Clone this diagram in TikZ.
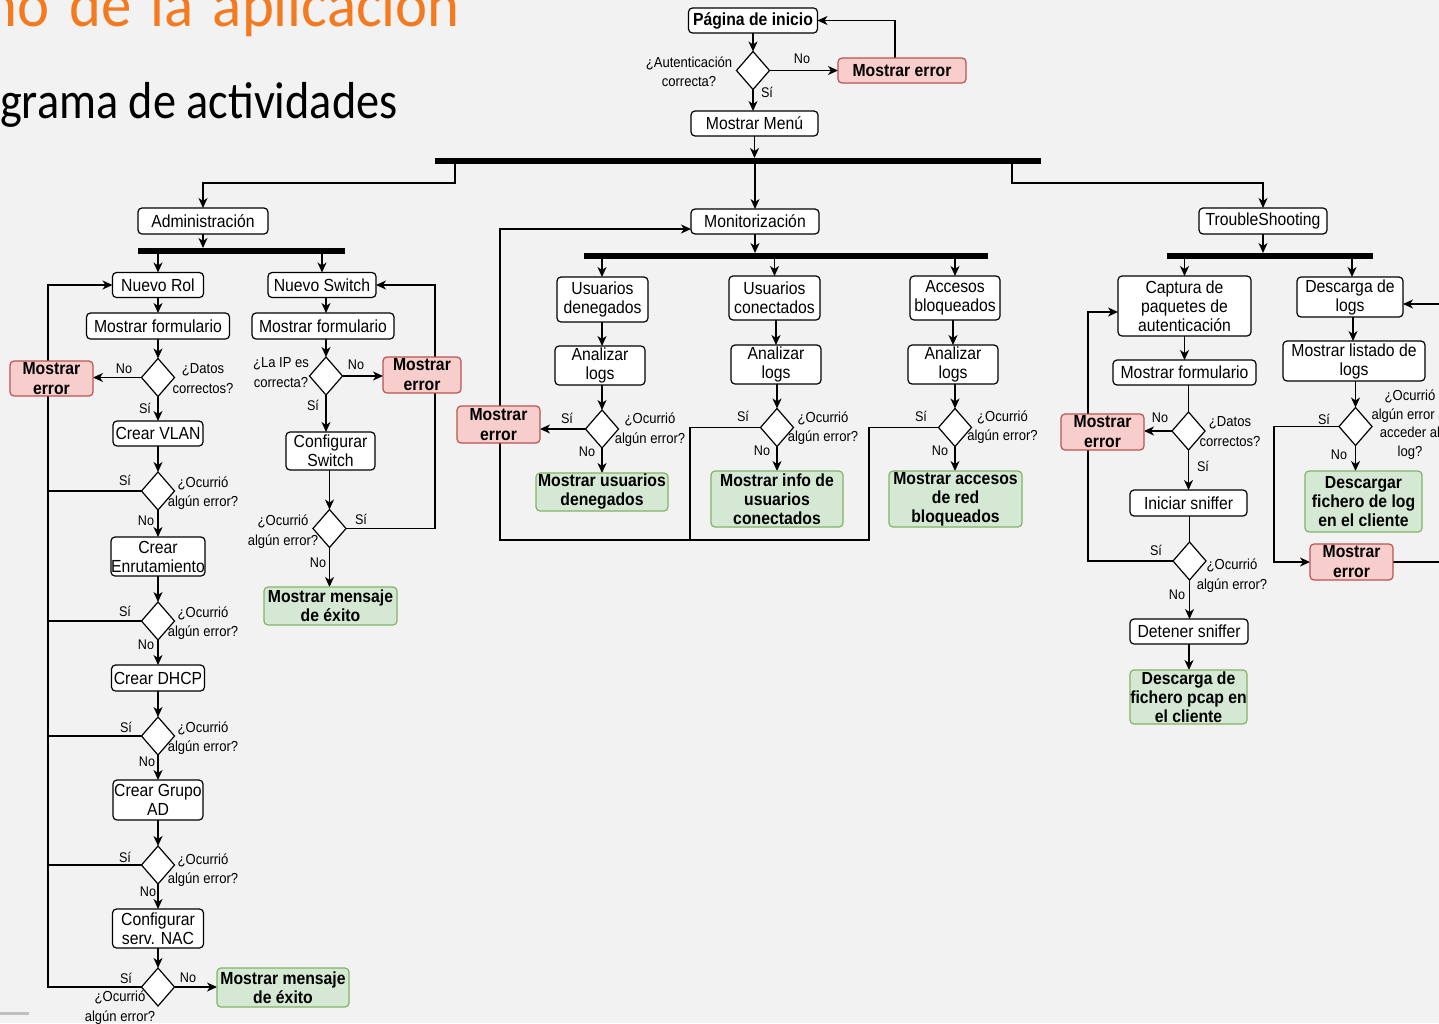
\documentclass[tikz,border=0pt]{standalone}
\usepackage{fontspec}
\setmainfont{Liberation Sans}[FakeStretch=0.9]
\newfontfamily\titlefont{Carlito}[FakeStretch=0.95,WordSpace=1.4]
\newfontfamily\subtitlefont{Carlito}[FakeStretch=0.89]
\usetikzlibrary{arrows.meta,shapes.geometric}
\definecolor{pagebg}{HTML}{F2F2F2}
\definecolor{errfill}{HTML}{F8CECC}
\definecolor{errline}{HTML}{B85450}
\definecolor{okfill}{HTML}{D5E8D4}
\definecolor{okline}{HTML}{82B366}
\definecolor{titleorange}{HTML}{F47A20}
\pgfdeclarelayer{bg}
\pgfsetlayers{bg,main}
\tikzset{
  every node/.style={inner sep=0pt, outer sep=0pt},
  sz/.style 2 args={minimum width=#1pt, minimum height=#2pt},
  act/.style={draw=black, fill=white, rounded corners=4pt, line width=1.2pt, align=center,
    font=\fontsize{17.5}{19}\selectfont},
  hdr/.style={act, font=\fontsize{17.5}{19}\selectfont\bfseries},
  err/.style={act, draw=errline, fill=errfill, font=\fontsize{17.5}{20}\selectfont\bfseries},
  ok/.style={act, draw=okline, fill=okfill, font=\fontsize{17.5}{19}\selectfont\bfseries},
  dec/.style={diamond, draw=black, fill=white, line width=1.2pt, minimum width=33pt, minimum height=38pt},
  note/.style={align=center, font=\fontsize{14.5}{19.5}\selectfont},
  yn/.style={font=\fontsize{14}{16}\selectfont},
  fork/.style={fill=black},
  arr/.style={line width=1.3pt, -{Stealth[length=10pt,width=9pt,inset=3pt]}},
  ln/.style={line width=1.3pt},
}
\begin{document}
\begin{tikzpicture}[x=1pt, y=-1pt]
\useasboundingbox (0,0) rectangle (1439,1023);
\begin{pgfonlayer}{bg}
  \fill[pagebg] (0,0) rectangle (1439,1023);
\end{pgfonlayer}

% slide headings
\node[anchor=base west, text=titleorange, font=\titlefont\fontsize{64}{70}\selectfont] (ttl) at (-14,26) {no de la aplicación};
\node[anchor=base west, font=\subtitlefont\fontsize{52}{60}\selectfont] (sub) at (0,118) {grama de actividades};
\fill[black!25] (0,1012) rectangle (29,1015);

% login
\node[hdr, sz={129}{25}] (inicio) at (753,20.5) {Página de inicio};
\node[dec] (auth) at (753,70.5) {};
\node[err, sz={128}{25}] (err0) at (902,70.5) {Mostrar error};
\node[act, sz={127}{25}] (menu) at (754.5,123.5) {Mostrar Menú};
\node[fork, sz={606}{6}] (bar0) at (738,161) {};
\node[note] (qauth) at (689,71.5) {¿Autenticación\\correcta?};
\node[yn] (nauth) at (802,59) {No};
\node[yn] (sauth) at (767,92) {Sí};

% administration: new role
\node[act, sz={130}{26}] (adm) at (203,221) {Administración};
\node[fork, sz={207}{6}] (bar1) at (241.5,251) {};
\node[act, sz={91}{25}] (rol) at (158,285) {Nuevo Rol};
\node[act, sz={143}{26}] (form1) at (158,326) {Mostrar formulario};
\node[dec] (d1) at (158,377.5) {};
\node[err, sz={83}{35}] (err1) at (51.5,378.5) {Mostrar\\error};
\node[act, sz={90}{25}] (vlan) at (158,433.5) {Crear VLAN};
\node[dec] (d2) at (158,491) {};
\node[act, sz={94}{39}] (enr) at (158,556.5) {Crear\\Enrutamiento};
\node[dec] (d3) at (158,621) {};
\node[act, sz={93}{26}] (dhcp) at (158,678) {Crear DHCP};
\node[dec] (d4) at (158,736) {};
\node[act, sz={90}{40}] (ad) at (158,800) {Crear Grupo\\AD};
\node[dec] (d5) at (158,865) {};
\node[act, sz={91}{39}] (nac) at (158,928.5) {Configurar\\serv. NAC};
\node[dec] (d6) at (158,987) {};
\node[ok, sz={132}{39}] (ok1) at (283,987.5) {Mostrar mensaje\\de éxito};

\node[note] (q1) at (203,378.5) {¿Datos\\correctos?};
\node[yn] (n1) at (124,369) {No};
\node[yn] (s1) at (145,408) {Sí};
\node[note] (q2) at (203,493) {¿Ocurrió\\algún error?};
\node[yn] (s2) at (125,480) {Sí};
\node[yn] (n2) at (146,521) {No};
\node[note] (q3) at (203,623) {¿Ocurrió\\algún error?};
\node[yn] (s3) at (125,611) {Sí};
\node[yn] (n3) at (146,645) {No};
\node[note] (q4) at (203,738) {¿Ocurrió\\algún error?};
\node[yn] (s4) at (126,727) {Sí};
\node[yn] (n4) at (147,762) {No};
\node[note] (q5) at (203,870) {¿Ocurrió\\algún error?};
\node[yn] (s5) at (125,857) {Sí};
\node[yn] (n5) at (148,892) {No};
\node[note] (q6) at (120,1007.5) {¿Ocurrió\\algún error?};
\node[yn] (s6) at (126,978) {Sí};
\node[yn] (n6) at (188,978) {No};

% administration: new switch
\node[act, sz={108}{25}] (nsw) at (322,285) {Nuevo Switch};
\node[act, sz={142}{26}] (form2) at (323,326) {Mostrar formulario};
\node[dec] (d7) at (326,376) {};
\node[err, sz={78}{36}] (err2) at (422,375) {Mostrar\\error};
\node[act, sz={89}{38}] (csw) at (330.5,451) {Configurar\\Switch};
\node[dec] (d8) at (329.5,528.5) {};
\node[ok, sz={133}{38}] (ok2) at (330.5,606) {Mostrar mensaje\\de éxito};
\node[note] (q7) at (281,372.5) {¿La IP es\\correcta?};
\node[yn] (n7) at (356,365) {No};
\node[yn] (s7) at (313,405) {Sí};
\node[note] (q8) at (283,531.5) {¿Ocurrió\\algún error?};
\node[yn] (s8) at (361,519) {Sí};
\node[yn] (n8) at (318,563) {No};

% monitoring
\node[act, sz={128}{25}] (mon) at (755,221.5) {Monitorización};
\node[fork, sz={404}{6}] (bar2) at (786,256) {};
\node[act, sz={91}{45}] (ud) at (602.5,299.5) {Usuarios\\denegados};
\node[act, sz={90}{39}] (al1) at (600,365.5) {Analizar\\logs};
\node[dec] (d9) at (602,429) {};
\node[err, sz={83}{37}] (err3) at (498.5,424.5) {Mostrar\\error};
\node[ok, sz={132}{38}] (ok3) at (602,492) {Mostrar usuarios\\denegados};
\node[act, sz={91}{44}] (uc) at (774.5,298) {Usuarios\\conectados};
\node[act, sz={90}{39}] (al2) at (776,364.5) {Analizar\\logs};
\node[dec] (d10) at (777,427.5) {};
\node[ok, sz={132}{56}] (ok4) at (777,499) {Mostrar info de\\usuarios\\conectados};
\node[act, sz={90}{44}] (ab) at (955,298) {Accesos\\bloqueados};
\node[act, sz={90}{39}] (al3) at (953,364.5) {Analizar\\logs};
\node[dec] (d11) at (955,427.5) {};
\node[ok, sz={133}{56}] (ok5) at (955.5,499) {Mostrar accesos\\de red\\bloqueados};
\node[note] (q9) at (650,429.5) {¿Ocurrió\\algún error?};
\node[yn] (s9) at (567,418) {Sí};
\node[yn] (n9) at (587,452) {No};
\node[note] (q10) at (823,428) {¿Ocurrió\\algún error?};
\node[yn] (s10) at (743,416) {Sí};
\node[yn] (n10) at (762,451) {No};
\node[note] (q11) at (1002.5,427) {¿Ocurrió\\algún error?};
\node[yn] (s11) at (921,416) {Sí};
\node[yn] (n11) at (940,451) {No};
\coordinate (mbase) at (500,540);

% troubleshooting
\node[act, sz={128}{26}] (ts) at (1263,221) {TroubleShooting};
\node[fork, sz={206}{6}] (bar3) at (1270,256) {};
\node[act, sz={133}{60}] (cap) at (1184.5,306) {Captura de\\paquetes de\\autenticación};
\node[act, sz={143}{25}] (form3) at (1184.5,372.5) {Mostrar formulario};
\node[dec] (d12) at (1188.5,431) {};
\node[err, sz={83}{36}] (err4) at (1102.5,432) {Mostrar\\error};
\node[act, sz={117}{26}] (sn) at (1188.5,503) {Iniciar sniffer};
\node[dec] (d13) at (1189.5,561) {};
\node[act, sz={118}{25}] (ds) at (1189,631.5) {Detener sniffer};
\node[ok, sz={117}{54}] (ok6) at (1188.5,697) {Descarga de\\fichero pcap en\\el cliente};
\node[act, sz={106}{40}] (dl) at (1350,297) {Descarga de\\logs};
\node[act, sz={142}{40}] (ml) at (1354,361) {Mostrar listado de\\logs};
\node[dec] (d14) at (1355.5,426.5) {};
\node[ok, sz={117}{61}] (ok7) at (1363.5,501.5) {Descargar\\fichero de log\\en el cliente};
\node[err, sz={83}{36}] (err5) at (1351.5,562) {Mostrar\\error};
\node[note] (q12) at (1230,431.5) {¿Datos\\correctos?};
\node[yn] (n12) at (1160,418) {No};
\node[yn] (s12) at (1203,466) {Sí};
\node[note] (q13) at (1232,575.5) {¿Ocurrió\\algún error?};
\node[yn] (s13) at (1156,550) {Sí};
\node[yn] (n13) at (1177,595) {No};
\node[note, font=\fontsize{14.5}{18.5}\selectfont] (q14) at (1410,424.5) {¿Ocurrió\\algún error al\\acceder al\\log?};
\node[yn] (s14) at (1324,419) {Sí};
\node[yn] (n14) at (1339,455) {No};

\begin{pgfonlayer}{bg}
% login flow
\draw[arr] (inicio) -- (auth);
\draw[arr] (auth.east) -- (err0.west);
\draw[arr] (err0.north -| 895,0) |- (inicio.east);
\draw[arr] (auth.south) -- (auth.south |- menu.north);
\draw[arr] (menu.south) -- (menu.south |- bar0.north);
\draw[arr] (bar0.south -| 455,0) -- ++(0,19) -| (adm.north);
\draw[arr] (bar0.south -| mon) -- (mon.north);
\draw[arr] (bar0.south -| 1012,0) -- ++(0,19) -| (ts.north);

% new role
\draw[arr] (adm) -- (adm |- bar1.north);
\draw[arr] (bar1.south -| rol) -- (rol.north);
\draw[arr] (bar1.south -| nsw) -- (nsw.north);
\draw[arr] (rol) -- (form1);
\draw[arr] (form1) -- (d1);
\draw[arr] (d1) -- (vlan);
\draw[arr] (d1.west) -- (d1.west -| err1.east);
\draw[arr] (vlan) -- (d2);
\draw[arr] (d2) -- (enr);
\draw[arr] (enr) -- (d3);
\draw[arr] (d3) -- (dhcp);
\draw[arr] (dhcp) -- (d4);
\draw[arr] (d4) -- (ad);
\draw[arr] (ad) -- (d5);
\draw[arr] (d5) -- (nac);
\draw[arr] (nac) -- (d6);
\draw[arr] (d6.east) -- (d6.east -| ok1.west);
\draw[arr] (d6.west) -- (d6.west -| 48,0) |- (rol.west);
\draw[ln] (d2.west) -- (d2.west -| 48,0);
\draw[ln] (d3.west) -- (d3.west -| 48,0);
\draw[ln] (d4.west) -- (d4.west -| 48,0);
\draw[ln] (d5.west) -- (d5.west -| 48,0);

% new switch
\draw[arr] (nsw.south -| d7) -- (form2.north -| d7);
\draw[arr] (form2.south -| d7) -- (d7.north);
\draw[arr] (d7.east) -- (d7.east -| err2.west);
\draw[arr] (d7.south) -- (d7.south |- csw.north);
\draw[arr] (csw.south -| d8) -- (d8.north);
\draw[arr] (d8.south) -- (d8.south |- ok2.north);
\draw[arr] (d8.east) -- (d8.east -| 435,0) |- (nsw.east);

% monitoring
\draw[arr] (mon) -- (mon |- bar2.north);
\draw[arr] (bar2.south -| d9) -- (ud.north -| d9);
\draw[arr] (ud.south -| d9) -- (al1.north -| d9);
\draw[arr] (al1.south -| d9) -- (d9.north);
\draw[arr] (d9.west) -- (d9.west -| err3.east);
\draw[arr] (d9.south) -- (d9.south |- ok3.north);
\draw[arr] (bar2.south -| uc) -- (uc.north);
\draw[arr] (uc.south -| al2) -- (al2.north);
\draw[arr] (al2.south -| d10) -- (d10.north);
\draw[arr] (d10.south) -- (d10.south |- ok4.north);
\draw[arr] (bar2.south -| ab) -- (ab.north);
\draw[arr] (ab.south -| al3) -- (al3.north);
\draw[arr] (al3.south -| d11) -- (d11.north);
\draw[arr] (d11.south) -- (d11.south |- ok5.north);
\draw[ln] (d10.west) -- (d10.west -| 690,0) -- (mbase -| 690,0);
\draw[arr] (d11.west) -- (d11.west -| 869,0) |- (mbase) |- ([yshift=-7.5pt]mon.west);

% troubleshooting
\draw[arr] (ts) -- (ts |- bar3.north);
\draw[arr] (bar3.south -| cap) -- (cap.north);
\draw[arr] (bar3.south -| 1352,0) -- (dl.north -| 1352,0);
\draw[arr] (cap) -- (form3);
\draw[ln] (form3.south -| d12) -- (d12.north);
\draw[arr] (d12.west) -- (d12.west -| err4.east);
\draw[arr] (d12.south) -- (d12.south |- sn.north);
\draw[ln] (sn.south -| d13) -- (d13.north);
\draw[arr] (d13.south) -- (d13.south |- ds.north);
\draw[arr] (ds.south) -- (ds.south |- ok6.north);
\draw[arr] (d13.west) -- (d13.west -| 1088,0) |- ([yshift=-6pt]cap.west);
\draw[arr] (dl.south -| 1353,0) -- (ml.north -| 1353,0);
\draw[arr] (ml.south -| d14) -- (d14.north);
\draw[arr] (d14.south) -- (d14.south |- ok7.north);
\draw[arr] (d14.west) -- (d14.west -| 1274,0) |- (err5.west);
\draw[arr] (err5.east) -- ++(60,0) |- ([yshift=-7pt]dl.east);
\end{pgfonlayer}
\end{tikzpicture}
\end{document}
